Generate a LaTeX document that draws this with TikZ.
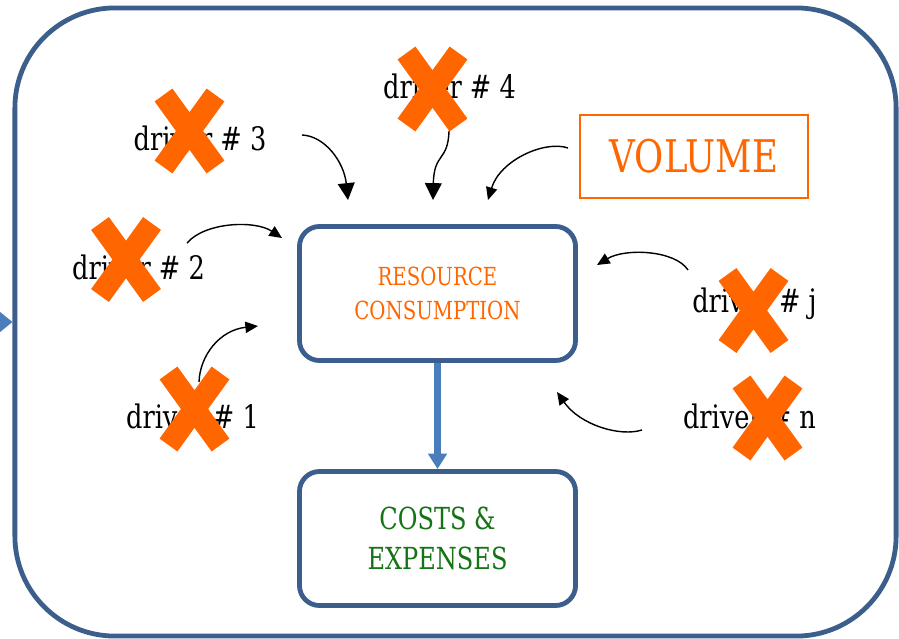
\documentclass[tikz,border=0pt]{standalone}
\usepackage{fontspec}
\setmainfont{DejaVu Serif Condensed}[FakeStretch=0.88]
\usetikzlibrary{arrows.meta,shapes.misc}
\definecolor{frameblue}{RGB}{59,94,140}
\definecolor{flowblue}{RGB}{74,126,187}
\definecolor{xorange}{RGB}{255,102,0}
\definecolor{costgreen}{RGB}{20,115,20}

\begin{document}
\begin{tikzpicture}[x=0.025cm,y=-0.025cm,
  loopbox/.style={draw=frameblue,line width=0.12cm,rounded corners=2.5cm,minimum width=22.025cm,minimum height=15.7cm,inner sep=0pt},
  box/.style={draw=frameblue,line width=0.12cm,rounded corners=0.5cm,minimum width=6.9cm,minimum height=3.35cm,align=center},
  vol/.style={draw=xorange,line width=0.05cm,minimum width=5.7cm,minimum height=2.075cm,text=xorange,font=\fontsize{32}{36}\selectfont},
  driver/.style={anchor=base,font=\fontsize{23}{26}\selectfont},
  nix/.style={cross out,draw=xorange,line width=0.55cm,minimum width=1.3cm,minimum height=1.8cm,inner sep=0pt,outer sep=0pt},
  feed/.style={-{Triangle[length=9pt,width=8pt]},line width=1pt},
  flow/.style={draw=flowblue,line width=4.3pt,-{Triangle[length=11pt,width=13pt]}}]
\useasboundingbox (0,0) rectangle (899,638);

\node[loopbox] at (455.5,322) (loop) {};
\coordinate (feedin) at (-40,322);
\draw[flow,line width=3pt,-{Triangle[length=9pt,width=14pt]}] (feedin) -- (loop.west);

\node[box,text=xorange,font=\fontsize{17.7}{24}\selectfont] at (437.5,293.5) (res) {RESOURCE\\CONSUMPTION};
\node[box,text=costgreen,font=\fontsize{21.6}{28}\selectfont] at (437.5,538.5) (cost) {COSTS \&\\EXPENSES};
\draw[flow] (res) -- (cost);

\node[vol] at (694,156.5) (volume) {VOLUME\hspace{0.4cm}};

\node[driver] at (200,150) (d3) {driver \# 3};
\node[driver] at (449.5,98) (d4) {driver \# 4};
\node[driver] at (138.5,279) (d2) {driver \# 2};
\node[driver] at (192.5,428) (d1) {driver \# 1};
\node[driver] at (754.5,312) (dj) {driver \# j};
\node[driver] at (749.5,428) (dn) {driver \# n};

\node[nix] at (189.5,131) (x3) {};
\node[nix] at (432.5,89) (x4) {};
\node[nix] at (126,259.5) (x2) {};
\node[nix] at (194.5,409) (x1) {};
\node[nix] at (753.5,310.5) (xj) {};
\node[nix] at (767.5,418) (xn) {};

\coordinate (s3) at (302,135);
\coordinate (t3) at (348,200);
\coordinate (s4) at (449,131);
\coordinate (t4) at (433,200);
\coordinate (sv) at (568,148);
\coordinate (tv) at (488,200);
\coordinate (s2) at (187,243);
\coordinate (t2) at (282,238);
\coordinate (s1) at (199,382);
\coordinate (t1) at (258,326);
\coordinate (sj) at (688,270);
\coordinate (tj) at (597,265);
\coordinate (sn) at (642,430);
\coordinate (tn) at (557,392);

\draw[feed,-{Triangle[length=12pt,width=12pt]}] (s3) .. controls (325,136) and (344,162) .. (t3);
\draw[feed,-{Triangle[length=12pt,width=12pt]}] (s4) .. controls (448,162) and (434,152) .. (t4);
\draw[feed] (sv) .. controls (545,140) and (500,160) .. (tv);
\draw[feed] (s2) .. controls (205,222) and (255,220) .. (t2);
\draw[feed] (s1) .. controls (200,355) and (220,330) .. (t1);
\draw[feed] (sj) .. controls (675,250) and (625,248) .. (tj);
\draw[feed] (sn) .. controls (620,437) and (580,425) .. (tn);
\end{tikzpicture}
\end{document}
